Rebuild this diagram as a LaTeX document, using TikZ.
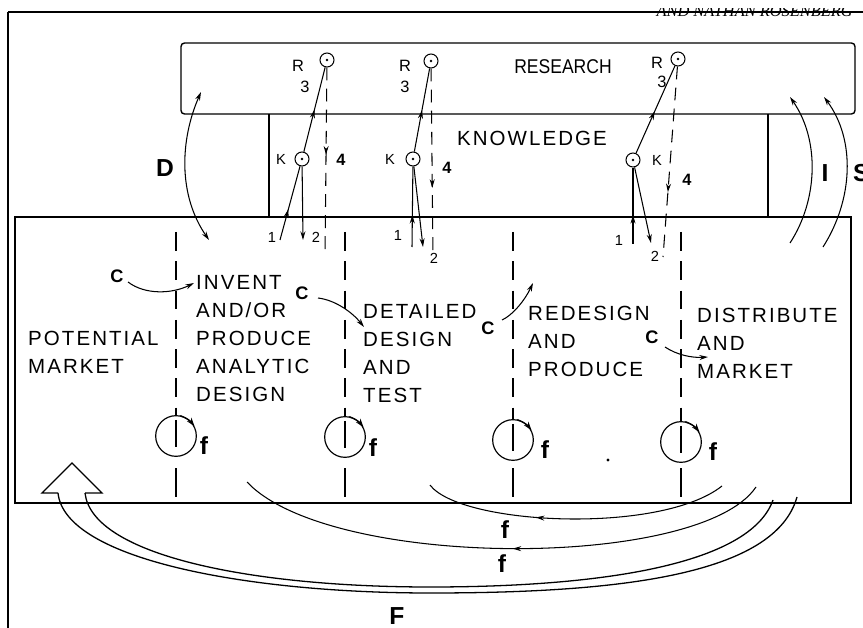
\documentclass[tikz,border=0pt]{standalone}
\usepackage{fontspec}
\setmainfont{Liberation Sans}
\newfontfamily\lbl[LetterSpace=10]{Liberation Sans}
\newfontfamily\rsch[FakeStretch=0.88]{Liberation Sans}
\newfontfamily\hdr{Liberation Serif}
\usetikzlibrary{arrows.meta,decorations.markings}
\tikzset{
  mainbox/.style={draw,line width=1.2pt},
  stagetxt/.style={anchor=north west,inner sep=0pt,align=left,font=\lbl\fontsize{17.5}{23.9}\selectfont},
  boxtxt/.style={inner sep=0pt,font=\lbl\fontsize{17.5}{20}\selectfont},
  biglab/.style={inner sep=0pt,font=\bfseries\fontsize{21}{24}\selectfont},
  flab/.style={inner sep=0pt,font=\bfseries\fontsize{21}{24}\selectfont},
  clab/.style={inner sep=0pt,font=\bfseries\fontsize{15.5}{18}\selectfont},
  rlab/.style={inner sep=0pt,font=\fontsize{14}{16}\selectfont},
  klab/.style={inner sep=0pt,font=\fontsize{12.5}{14}\selectfont},
  fourlab/.style={inner sep=0pt,font=\bfseries\fontsize{14}{16}\selectfont},
  onelab/.style={inner sep=0pt,font=\fontsize{12.5}{14}\selectfont},
  rkdot/.style={circle,draw,line width=0.9pt,minimum size=0.42cm,inner sep=0pt,
    path picture={\fill (path picture bounding box.center) circle (1.1pt);}},
  fcirc/.style={circle,draw,line width=1pt,minimum size=1.22cm,inner sep=0pt},
  thinl/.style={line width=0.9pt},
  ar/.style={line width=0.9pt,-{Stealth[length=2.6mm,width=1.5mm]}},
  dbl/.style={line width=0.9pt,{Stealth[length=2.6mm,width=1.5mm]}-{Stealth[length=2.6mm,width=1.5mm]}},
  midtip/.style={postaction={decorate,decoration={markings,mark=at position #1 with {\arrow{Stealth[length=2.6mm,width=1.5mm]}}}}},
  stagesep/.style={line width=1pt,dash pattern=on 16pt off 9pt},
  dsh/.style={line width=0.9pt,dash pattern=on 11pt off 7pt},
  fline/.style={line width=1.1pt},
}
\begin{document}
\begin{tikzpicture}[x=0.03cm,y=-0.03cm]
\useasboundingbox (0,0) rectangle (863,628);

% running head (clipped)
\begin{scope}
\clip (600,9) rectangle (863,18);
\node[anchor=base east,inner sep=0pt,font=\hdr\itshape\fontsize{14}{16}\selectfont] (hd) at (853,16.5) {AND NATHAN ROSENBERG};
\end{scope}
\draw[line width=1.7pt] (8,12) -- (863,12);
\draw[line width=1.4pt] (8,12) -- (8,628);

% boxes
\draw[mainbox,rounded corners=3pt] (181,43) rectangle (855,114);
\draw[mainbox] (269,114) -- (269,217);
\draw[mainbox] (768,114) -- (768,217);
\draw[mainbox] (15,217) rectangle (851,503);

\node[inner sep=0pt,font=\rsch\fontsize{17}{20}\selectfont] (res) at (563,67) {RESEARCH};
\node[boxtxt] (kn) at (532,138) {KNOWLEDGE};

% stage texts
\node[stagetxt] (pm) at (28,330.5) {POTENTIAL\\MARKET};
\node[stagetxt] (s1) at (196,275.5) {INVENT\\AND/OR\\PRODUCE\\ANALYTIC\\DESIGN};
\node[stagetxt] (s2) at (363,304.5) {DETAILED\\DESIGN\\AND\\TEST};
\node[stagetxt] (s3) at (528,305.5) {REDESIGN\\AND\\PRODUCE};
\node[stagetxt] (s4) at (697,307.5) {DISTRIBUTE\\AND\\MARKET};

% feedback circles
\node[fcirc] (f1) at (176,436) {};
\node[fcirc] (f2) at (345,437) {};
\node[fcirc] (f3) at (513,440) {};
\node[fcirc] (f4) at (681,442) {};
\foreach \n/\x in {1/176,2/345,3/513,4/681}{
  \coordinate (t\n) at (\x,232);
  \coordinate (u\n) at (\x,468);
  \coordinate (v\n) at (\x,497);
  \draw[stagesep] (t\n) -- (f\n.north);
  \draw[line width=1pt] (u\n) -- (v\n);
  \draw[line width=1pt] ([yshift=0.48cm]f\n.center) -- ([yshift=-0.34cm]f\n.center);
  \draw[line width=1pt,-{Stealth[length=2.6mm,width=1.7mm]}] (f\n.78) to[bend left=15] (f\n.28);
}
\node[flab] at (204,446) {f};
\node[flab] at (373,448) {f};
\node[flab] at (545,450) {f};
\node[flab] at (713,452) {f};
\fill (608,460) circle (1.3pt);

% R and K circles
\node[rkdot] (R1) at (327,60) {};
\node[rkdot] (R2) at (431,61) {};
\node[rkdot] (R3) at (678,59) {};
\node[rkdot] (K1) at (302,159) {};
\node[rkdot] (K2) at (413,159) {};
\node[rkdot] (K3) at (633,160) {};
\node[rlab] at (298,66) {R};
\node[rlab] at (405,66) {R};
\node[rlab] at (657,63) {R};
\node[rlab] at (305,87) {3};
\node[rlab] at (405,87) {3};
\node[rlab] at (662,82) {3};
\node[klab] at (281,159) {K};
\node[klab] at (390,159) {K};
\node[klab] at (657,160) {K};
\node[fourlab] at (341,160) {4};
\node[fourlab] at (447,168) {4};
\node[fourlab] at (687,180) {4};
\node[onelab] at (272,237) {1};
\node[onelab] at (316,237) {2};
\node[onelab] at (398,235) {1};
\node[onelab] at (434,258) {2};
\node[onelab] at (619,240) {1};
\node[onelab] at (655,256) {2};

\coordinate (a1) at (280,240); \coordinate (b1) at (303,240); \coordinate (d1) at (325,257);
\coordinate (a2) at (412,247); \coordinate (b2) at (423,247); \coordinate (d2) at (433,258);
\coordinate (a3) at (633,244); \coordinate (b3) at (651,243); \coordinate (d3) at (663,257);

\draw[thinl,midtip=0.5] (K1) -- (R1);
\draw[thinl,midtip=0.42] (a1) -- (K1);
\draw[ar] (K1) -- (b1);
\draw[dsh,midtip=0.46] (R1) -- (d1);

\draw[thinl,midtip=0.5] (K2) -- (R2);
\draw[thinl,midtip=0.4] (a2) -- (K2);
\draw[ar] (K2) -- (b2);
\draw[dsh,midtip=0.63] (R2) -- (d2);

\draw[thinl,midtip=0.48] (K3) -- (R3);
\draw[thinl,midtip=0.38] (a3) -- (K3);
\draw[ar] (K3) -- (b3);
\draw[dsh,midtip=0.66] (R3) -- (d3);

% D arrow
\coordinate (dtop) at (201,92);
\coordinate (dbot) at (209,240);
\draw[dbl] (dbot) .. controls (178,195) and (180,140) .. (dtop);
\node[biglab] (D) at (165,168) {D};

% I and S arrows
\coordinate (ib) at (790,243); \coordinate (it) at (790,97);
\coordinate (sb) at (823,247); \coordinate (st) at (824,97);
\draw[ar] (ib) .. controls (818,200) and (820,140) .. (it);
\draw[ar] (sb) .. controls (853,200) and (856,140) .. (st);
\node[biglab] (I) at (825,173) {I};
\node[biglab,anchor=west] (S) at (853,173) {S};

% C arrows
\node[clab] (c1) at (117,276) {C};
\node[clab] (c2) at (302,293) {C};
\node[clab] (c3) at (488,328) {C};
\node[clab] (c4) at (652,337) {C};
\coordinate (ce1) at (194,283); \coordinate (ce2) at (364,327);
\coordinate (ce3) at (533,283); \coordinate (ce4) at (708,357);
\draw[ar] (128,282) .. controls (145,295) and (172,294) .. (ce1);
\draw[ar] (318,298) .. controls (335,300) and (352,312) .. (ce2);
\draw[ar] (502,320) .. controls (513,315) and (525,300) .. (ce3);
\draw[ar] (665,347) .. controls (677,355) and (692,358) .. (ce4);

% feedback loops f
\draw[thinl,midtip=0.63] (722,486) .. controls (660,535) and (460,525) .. (430,485);
\draw[thinl,midtip=0.48] (756,487) .. controls (700,570) and (330,570) .. (247,482);
\node[flab] at (505,530) {f};
\node[flab] at (502,564) {f};

% F loop with hollow arrow
\draw[fline] (58,493) .. controls (65,560) and (250,593) .. (430,593) .. controls (620,593) and (775,575) .. (797,497);
\draw[fline] (85,493) .. controls (92,555) and (250,587) .. (430,587) .. controls (600,587) and (750,565) .. (773,500);
\draw[fline] (58,493) -- (42,493) -- (72,463) -- (102,493) -- (85,493);
\node[biglab] (F) at (397,616) {F};
\end{tikzpicture}
\end{document}
